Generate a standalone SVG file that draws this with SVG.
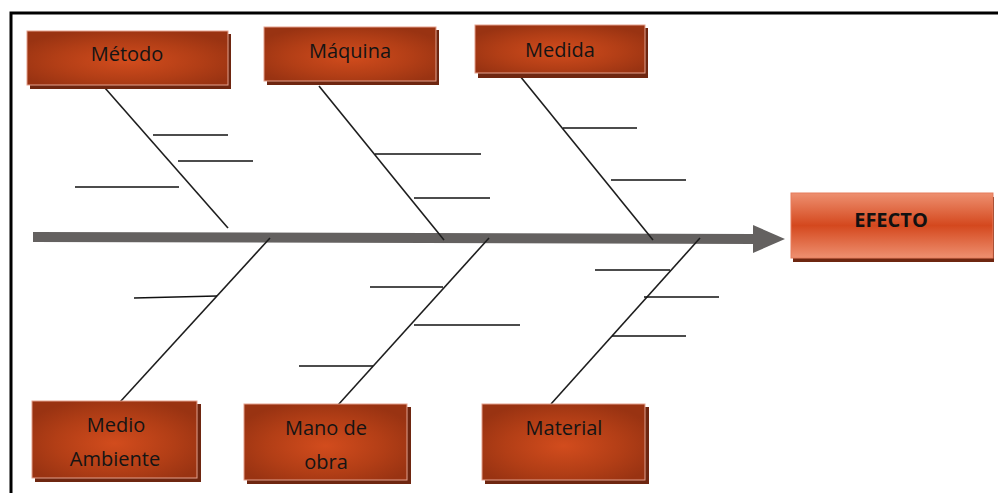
<svg xmlns="http://www.w3.org/2000/svg" width="998" height="493" viewBox="0 0 998 493">
  <defs>
    <radialGradient id="cause-fill" cx="50%" cy="55%" r="60%">
      <stop offset="0" stop-color="#D24C1D"/>
      <stop offset="0.6" stop-color="#B23E16"/>
      <stop offset="1" stop-color="#993312"/>
    </radialGradient>
    <linearGradient id="effect-fill" x1="0" y1="0" x2="0" y2="1">
      <stop offset="0" stop-color="#EE9070"/>
      <stop offset="0.5" stop-color="#D4481E"/>
      <stop offset="1" stop-color="#EE9070"/>
    </linearGradient>
    <marker id="spine-head" viewBox="0 0 32 28" refX="0" refY="14" markerWidth="32" markerHeight="28" markerUnits="userSpaceOnUse" orient="auto">
      <path d="M0,0 L32,14 L0,28 Z" fill="#646160"/>
    </marker>
  </defs>
  <style>
    .shadow { fill: #6E2610; }
    .cause { fill: url(#cause-fill); stroke: #E3A08C; stroke-width: 1; }
    .effect { fill: url(#effect-fill); stroke: #E57C5C; stroke-width: 1; }
    .label { font-family: "Open Sans", "Liberation Sans", sans-serif; font-size: 20px; fill: #141414; text-anchor: middle; }
    .label-bold { font-family: "Open Sans", "Liberation Sans", sans-serif; font-size: 20px; font-weight: bold; fill: #111; text-anchor: middle; }
    .bone { stroke: #1E1E1E; stroke-width: 1.6; fill: none; }
    .rib { stroke: #111; stroke-width: 1.6; fill: none; }
    .spine { stroke: #646160; stroke-width: 10; fill: none; }
  </style>

  <rect width="998" height="493" fill="#FFFFFF"/>

  <!-- frame -->
  <path d="M11,493 V13 H998" fill="none" stroke="#000" stroke-width="3"/>

  <!-- connectors: spine, bones and ribs -->
  <g id="connectors">
    <line class="spine" x1="33" y1="237" x2="753" y2="239" marker-end="url(#spine-head)"/>

    <!-- Método -->
    <line class="bone" x1="105" y1="88" x2="228" y2="228"/>
    <line class="rib" x1="153" y1="135" x2="228" y2="135"/>
    <line class="rib" x1="178" y1="161" x2="253" y2="161"/>
    <line class="rib" x1="75" y1="187" x2="179" y2="187"/>

    <!-- Máquina -->
    <line class="bone" x1="319" y1="86" x2="444" y2="240"/>
    <line class="rib" x1="375" y1="154" x2="481" y2="154"/>
    <line class="rib" x1="414" y1="198" x2="490" y2="198"/>

    <!-- Medida -->
    <line class="bone" x1="520" y1="76" x2="653" y2="240"/>
    <line class="rib" x1="563" y1="128" x2="637" y2="128"/>
    <line class="rib" x1="611" y1="180" x2="686" y2="180"/>

    <!-- Medio Ambiente -->
    <line class="bone" x1="270" y1="238" x2="120" y2="402"/>
    <line class="rib" x1="134" y1="298" x2="217" y2="296"/>

    <!-- Mano de obra -->
    <line class="bone" x1="489" y1="238" x2="338" y2="405"/>
    <line class="rib" x1="370" y1="287" x2="443" y2="287"/>
    <line class="rib" x1="414" y1="325" x2="520" y2="325"/>
    <line class="rib" x1="299" y1="366" x2="373" y2="366"/>

    <!-- Material -->
    <line class="bone" x1="700" y1="238" x2="551" y2="404"/>
    <line class="rib" x1="595" y1="270" x2="670" y2="270"/>
    <line class="rib" x1="644" y1="297" x2="719" y2="297"/>
    <line class="rib" x1="612" y1="336" x2="686" y2="336"/>
  </g>

  <g id="metodo">
    <rect class="shadow" x="30" y="34" width="201" height="55"/>
    <rect class="cause" x="27" y="31" width="201" height="54"/>
    <text class="label" x="127" y="61">Método</text>
  </g>

  <g id="maquina">
    <rect class="shadow" x="267" y="30" width="172" height="55"/>
    <rect class="cause" x="264" y="27" width="172" height="54"/>
    <text class="label" x="350" y="58">Máquina</text>
  </g>

  <g id="medida">
    <rect class="shadow" x="478" y="28" width="170" height="50"/>
    <rect class="cause" x="475" y="25" width="170" height="48"/>
    <text class="label" x="560" y="57">Medida</text>
  </g>

  <g id="efecto">
    <rect class="shadow" x="793" y="197" width="201" height="65"/>
    <rect class="effect" x="791" y="193" width="202" height="65"/>
    <text class="label-bold" x="891" y="227">EFECTO</text>
  </g>

  <g id="medio-ambiente">
    <rect class="shadow" x="35" y="404" width="166" height="78"/>
    <rect class="cause" x="32" y="401" width="165" height="77"/>
    <text class="label" x="116" y="432">Medio</text>
    <text class="label" x="115" y="466">Ambiente</text>
  </g>

  <g id="mano-de-obra">
    <rect class="shadow" x="247" y="407" width="164" height="77"/>
    <rect class="cause" x="244" y="404" width="163" height="76"/>
    <text class="label" x="326" y="435">Mano de</text>
    <text class="label" x="326" y="469">obra</text>
  </g>

  <g id="material">
    <rect class="shadow" x="485" y="407" width="164" height="77"/>
    <rect class="cause" x="482" y="404" width="163" height="76"/>
    <text class="label" x="564" y="435">Material</text>
  </g>
</svg>
